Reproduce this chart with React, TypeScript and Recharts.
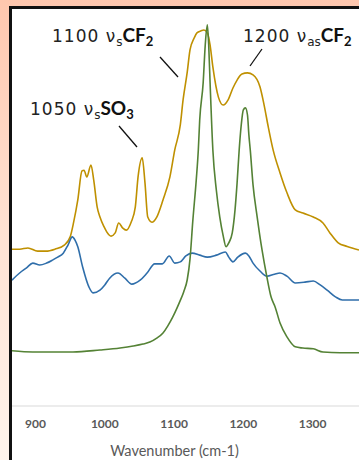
import React from "react";
import { LineChart, Line, XAxis, YAxis } from "recharts";

type Pt = { w: number; v: number };

const wavenumberTicks = [900, 1000, 1100, 1200, 1300];

// [wavenumber cm-1, relative absorbance %]
const goldSpectrum: [number, number][] = [
  [866, 39.5], [877, 39.5], [889, 39.8], [903, 39.0], [915, 39.0], [928, 39.5],
  [942, 40.6], [950, 42.6], [955, 46.3], [961, 51.9], [967, 59.2], [970, 59.4],
  [974, 57.7], [980, 60.7], [984, 56.9], [989, 50.1], [993, 47.6], [999, 45.1],
  [1003, 43.8], [1009, 42.8], [1015, 43.6], [1020, 46.1], [1026, 44.8], [1031, 44.3],
  [1038, 46.3], [1044, 50.1], [1048, 57.7], [1054, 62.5], [1058, 56.2], [1062, 47.6],
  [1068, 46.3], [1075, 47.6], [1084, 51.9], [1094, 57.7], [1101, 64.5], [1109, 70.8],
  [1113, 77.1], [1119, 84.1], [1123, 89.7], [1129, 92.7], [1133, 94.0], [1139, 94.5],
  [1143, 94.7], [1148, 94.0], [1152, 90.9], [1156, 85.4], [1164, 77.8], [1171, 75.8],
  [1178, 77.1], [1185, 80.1], [1191, 82.1], [1198, 83.6], [1206, 83.9], [1214, 83.4],
  [1224, 80.4], [1230, 75.8], [1236, 70.3], [1243, 64.5], [1253, 58.7], [1263, 53.7],
  [1275, 49.4], [1286, 48.6], [1301, 47.6], [1315, 46.1], [1325, 43.6], [1337, 41.1],
  [1350, 40.2], [1367, 39.3],
];

const blueSpectrum: [number, number][] = [
  [866, 31.7], [877, 33.5], [887, 34.8], [896, 36.0], [906, 35.5], [916, 36.0],
  [925, 36.8], [932, 37.5], [940, 38.5], [947, 40.6], [953, 42.6], [957, 41.8],
  [961, 40.1], [968, 35.0], [977, 30.0], [983, 28.5], [993, 29.2], [1000, 30.5],
  [1007, 32.2], [1019, 33.5], [1029, 32.2], [1039, 30.7], [1051, 31.7], [1061, 33.5],
  [1072, 35.8], [1083, 35.8], [1093, 37.8], [1101, 36.0], [1109, 36.3], [1117, 37.8],
  [1126, 38.5], [1137, 38.0], [1148, 37.5], [1161, 38.0], [1174, 38.8], [1179, 37.5],
  [1185, 36.3], [1192, 37.5], [1203, 38.5], [1208, 37.8], [1214, 36.0], [1224, 34.0],
  [1234, 32.7], [1245, 33.2], [1253, 33.5], [1263, 32.7], [1275, 31.0], [1289, 31.2],
  [1301, 31.5], [1311, 30.5], [1321, 29.2], [1333, 27.5], [1343, 26.7], [1367, 26.7],
];

const greenSpectrum: [number, number][] = [
  [866, 13.9], [896, 13.6], [954, 13.6], [993, 14.1], [1022, 14.6], [1041, 15.1],
  [1055, 15.6], [1065, 16.1], [1075, 17.1], [1084, 18.4], [1091, 20.2], [1098, 22.4],
  [1104, 24.6], [1109, 26.6], [1114, 28.8], [1119, 31.8], [1123, 37.0], [1127, 46.5],
  [1132, 56.9], [1135, 64.5], [1137, 72.0], [1142, 81.4], [1145, 90.9], [1148, 96.0],
  [1150, 90.9], [1152, 81.4], [1156, 64.5], [1161, 54.4], [1166, 47.6], [1171, 42.8],
  [1175, 40.1], [1179, 41.1], [1184, 43.6], [1188, 49.4], [1191, 56.2], [1194, 64.5],
  [1197, 70.8], [1200, 74.6], [1203, 75.1], [1206, 73.3], [1208, 68.3], [1210, 64.5],
  [1214, 55.7], [1220, 47.6], [1227, 39.3], [1234, 32.5], [1240, 27.5], [1246, 24.9],
  [1253, 20.9], [1263, 17.4], [1275, 14.9], [1286, 14.6], [1301, 14.4], [1315, 13.6],
  [1340, 13.4], [1367, 13.4],
];

const toPts = (rows: [number, number][]): Pt[] => rows.map(([w, v]) => ({ w, v }));

const tickStyle = { fontSize: 12, fill: "#595959", fontFamily: "Lato", fontWeight: 700 };

function Annotations() {
  const txt = { fontFamily: "DejaVu Sans", fill: "#222", fontSize: 17, letterSpacing: 1 };
  const bold = { fontFamily: "Lato", fontWeight: 700, fill: "#111" };
  return (
    <svg
      width={359}
      height={460}
      style={{ position: "absolute", left: 0, top: 0, pointerEvents: "none" }}
    >
      <text x={52} y={42} {...txt}>
        1100 ν<tspan fontSize={12} dy={4} letterSpacing={0}>s</tspan>
        <tspan dy={-4} fontSize={19} letterSpacing={0} {...bold}>CF</tspan>
        <tspan dy={4} fontSize={13} letterSpacing={0} {...bold}>2</tspan>
      </text>
      <text x={30} y={115} {...txt}>
        1050 ν<tspan fontSize={12} dy={4} letterSpacing={0}>s</tspan>
        <tspan dy={-4} fontSize={19} letterSpacing={0} {...bold}>SO</tspan>
        <tspan dy={4} fontSize={13} letterSpacing={0} {...bold}>3</tspan>
      </text>
      <text x={243} y={42} {...txt}>
        1200 ν<tspan fontSize={12} dy={4} letterSpacing={0}>as</tspan>
        <tspan dy={-4} fontSize={19} letterSpacing={0} {...bold}>CF</tspan>
        <tspan dy={4} fontSize={13} letterSpacing={0} {...bold}>2</tspan>
      </text>
      <line x1={160} y1={57} x2={178} y2={77} stroke="#111" strokeWidth={1.3} />
      <line x1={119} y1={126} x2={137} y2={147} stroke="#111" strokeWidth={1.3} />
      <line x1={262} y1={49} x2={250} y2={66} stroke="#111" strokeWidth={1.3} />
    </svg>
  );
}

export default function App() {
  return (
    <div
      style={{
        position: "fixed",
        left: 0,
        top: 0,
        width: 359,
        height: 460,
        overflow: "hidden",
        background: "linear-gradient(to bottom, #FFC7AE 0%, #FFE2D3 50%, #FFF4EC 100%)",
      }}
    >
      <div
        style={{
          position: "absolute",
          left: 9,
          top: 6,
          width: 400,
          height: 480,
          background: "#fff",
          borderTop: "3px solid #111",
          borderLeft: "3px solid #111",
        }}
      />
      <div style={{ position: "absolute", left: 12, top: 9 }}>
        <LineChart width={347} height={451} margin={{ top: 0, right: 0, left: 0, bottom: 0 }}>
          <XAxis
            dataKey="w"
            type="number"
            domain={[866, 1367]}
            ticks={wavenumberTicks}
            allowDataOverflow
            height={54}
            tick={{ ...tickStyle, dy: 5 }}
            tickLine={false}
            axisLine={{ stroke: "#D9D9D9" }}
            label={{
              value: "Wavenumber (cm-1)",
              position: "insideBottom",
              offset: 4,
              dx: -11,
              style: { fontSize: 14.5, fill: "#595959", fontFamily: "Lato" },
            }}
          />
          <YAxis hide domain={[0, 100]} />
          <Line data={toPts(goldSpectrum)} dataKey="v" type="monotone" stroke="#BF9000" strokeWidth={1.6} dot={false} isAnimationActive={false} />
          <Line data={toPts(blueSpectrum)} dataKey="v" type="monotone" stroke="#2F6EAA" strokeWidth={1.6} dot={false} isAnimationActive={false} />
          <Line data={toPts(greenSpectrum)} dataKey="v" type="monotone" stroke="#548235" strokeWidth={1.6} dot={false} isAnimationActive={false} />
        </LineChart>
      </div>
      <Annotations />
    </div>
  );
}
